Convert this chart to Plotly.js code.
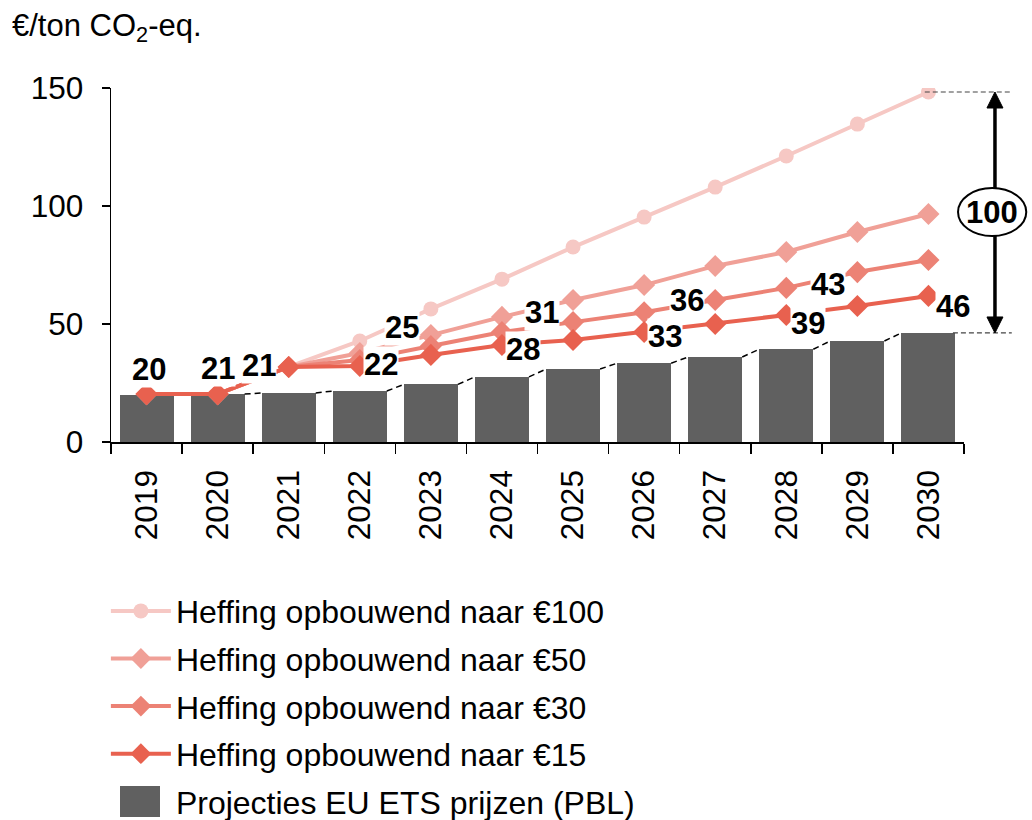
<!DOCTYPE html>
<html>
<head>
<meta charset="utf-8">
<script src="https://cdn.plot.ly/plotly-3.0.1.min.js"></script>
<style>html,body{margin:0;padding:0;background:#fff;}#chart{width:1032px;height:820px;}</style>
</head>
<body>
<div id="chart"></div>
<script>
// ---- data ----
const years = [2019, 2020, 2021, 2022, 2023, 2024, 2025, 2026, 2027, 2028, 2029, 2030];
const etsPrices = [19.9, 20.3, 20.8, 21.6, 24.4, 27.6, 30.9, 33.4, 36.0, 39.3, 42.8, 46.2];
const etsLabels = ['20', '21', '21', '22', '25', '28', '31', '33', '36', '39', '43', '46'];
const heffing100 = [20.3, 20.3, 31.8, 42.8, 56.4, 69.0, 82.6, 95.3, 108.0, 121.2, 134.7, 148.3];
const heffing50 = [20.3, 20.3, 31.8, 37.7, 45.3, 53.0, 60.2, 66.5, 74.6, 80.5, 89.0, 96.6];
const heffing30 = [20.3, 20.3, 31.8, 34.7, 40.7, 46.6, 50.8, 55.0, 60.2, 65.3, 72.0, 77.1];
const heffing15 = [20.3, 20.3, 31.8, 32.2, 36.9, 41.1, 43.2, 46.6, 50.0, 53.8, 57.6, 61.9];
const seriesNames = ['Heffing opbouwend naar €100', 'Heffing opbouwend naar €50',
                     'Heffing opbouwend naar €30', 'Heffing opbouwend naar €15'];
const barName = 'Projecties EU ETS prijzen (PBL)';
const yTicks = [0, 50, 100, 150];
const gapLabel = '100';

// ---- style ----
const FONT = 'Liberation Sans, Arial, Helvetica, sans-serif';
const barColor = '#606060';
const lineColors = ['#f6c8c4', '#f0a097', '#ec8275', '#e8614f'];
const barWidth = 0.76;
// label offsets in pixels [dx, dy] relative to each bar top
const labelShift = [[2,26],[0,26],[-30,27],[21,27],[-29,57],[21,27],[-31,57],[21,27],[-28,57],[22,26],[-29,56],[25,26]];

const half = barWidth / 2;
const slx = [], sly = [];
for (let i = 0; i < years.length - 1; i++) {
  slx.push(years[i] + half, years[i + 1] - half, null);
  sly.push(etsPrices[i], etsPrices[i + 1], null);
}
const boundaries = years.map(y => y - 0.5).concat([years[years.length - 1] + 0.5]);

const traces = [
  {type: 'bar', x: years, y: etsPrices, name: barName, width: barWidth,
   marker: {color: barColor}, legendrank: 5, legendgroup: 'g5', hoverinfo: 'y'},
  {type: 'scatter', mode: 'lines', x: slx, y: sly, showlegend: false,
   line: {color: '#000', width: 1.5, dash: '6px,4px'}, hoverinfo: 'skip'},
];
const seriesData = [heffing100, heffing50, heffing30, heffing15];
seriesData.forEach((d, i) => {
  traces.push({type: 'scatter', mode: 'lines+markers', x: years, y: d, name: seriesNames[i],
    legendrank: i + 1, legendgroup: 'g' + (i + 1),
    line: {color: lineColors[i], width: 4},
    marker: {color: lineColors[i], symbol: i === 0 ? 'circle' : 'diamond', size: i === 0 ? 15 : 17}});
});

const annotations = years.map((yr, i) => ({
  x: yr, y: etsPrices[i], xref: 'x', yref: 'y', text: etsLabels[i], showarrow: false,
  xanchor: 'center', yanchor: 'middle',
  xshift: labelShift[i][0], yshift: labelShift[i][1], bgcolor: '#fff', borderpad: 0,
  font: {family: FONT, size: 31, color: '#000', weight: 'bold'}
}));
const topVal = heffing100[heffing100.length - 1];
const botVal = etsPrices[etsPrices.length - 1];
const arrowX = 1.0363;
const ellTop = 107.6, ellBot = 87.3;
annotations.push(
  {x: arrowX - 0.003, xref: 'paper', y: (ellTop + ellBot) / 2, yref: 'y', text: gapLabel, showarrow: false,
   xanchor: 'center', yanchor: 'middle',
   font: {family: FONT, size: 31, color: '#000', weight: 'bold'}}
);

const shapes = [
  {type: 'line', xref: 'paper', yref: 'y', x0: 0.954, x1: 1.056, y0: topVal, y1: topVal,
   line: {color: '#444', width: 1.2, dash: '5px,3px'}},
  {type: 'line', xref: 'paper', yref: 'y', x0: 0.987, x1: 1.056, y0: botVal, y1: botVal,
   line: {color: '#444', width: 1.2, dash: '5px,3px'}},
  // double arrow shafts
  {type: 'line', xref: 'paper', yref: 'y', x0: arrowX, x1: arrowX, y0: topVal - 5, y1: ellTop,
   line: {color: '#000', width: 3.5}},
  {type: 'line', xref: 'paper', yref: 'y', x0: arrowX, x1: arrowX, y0: ellBot, y1: botVal + 5,
   line: {color: '#000', width: 3.5}},
  // arrow heads
  {type: 'path', xref: 'paper', yref: 'y', xsizemode: 'pixel', ysizemode: 'pixel',
   xanchor: arrowX, yanchor: topVal, path: 'M0,0 L-8,-16 L8,-16 Z',
   fillcolor: '#000', line: {color: '#000', width: 1}},
  {type: 'path', xref: 'paper', yref: 'y', xsizemode: 'pixel', ysizemode: 'pixel',
   xanchor: arrowX, yanchor: botVal, path: 'M0,0 L-8,16 L8,16 Z',
   fillcolor: '#000', line: {color: '#000', width: 1}},
  {type: 'circle', xref: 'paper', yref: 'y', x0: 0.993, x1: 1.073, y0: ellBot, y1: ellTop,
   fillcolor: '#fff', line: {color: '#000', width: 2}, layer: 'above'},
  // enlarged legend swatch for the bar series (sits under the legend's own swatch)
  {type: 'rect', xref: 'paper', yref: 'paper', x0: (120 - 111) / 853, x1: (160 - 111) / 853,
   y0: (442 - 817) / 354, y1: (442 - 786) / 354, fillcolor: barColor, line: {width: 0}, layer: 'above'}
];

const layout = {
  width: 1032, height: 820,
  margin: {l: 111, r: 68, t: 88, b: 378, autoexpand: false},
  paper_bgcolor: '#fff', plot_bgcolor: '#fff',
  font: {family: FONT, size: 32, color: '#000'},
  title: {text: '€/ton CO<sub>2</sub>-eq.', x: 12 / 1032, xref: 'container', xanchor: 'left',
          y: 1 - 25 / 820, yref: 'container', yanchor: 'middle',
          font: {family: FONT, size: 31, color: '#000'}},
  showlegend: true,
  legend: {x: -0.006, xanchor: 'left', y: -0.40, yanchor: 'top', bgcolor: 'rgba(0,0,0,0)',
           font: {family: FONT, size: 32, color: '#000'}, traceorder: 'grouped', tracegroupgap: 3, itemwidth: 60},
  xaxis: {type: 'linear', range: [years[0] - 0.5, years[years.length - 1] + 0.5],
          tickmode: 'array', tickvals: years, ticktext: years.map(String), tickangle: -90,
          tickfont: {size: 31.5}, automargin: false,
          ticks: '', showgrid: false, zeroline: false, showline: true, linecolor: '#000', linewidth: 1.5,
          ticklabelstandoff: 14, fixedrange: true,
          minor: {tickmode: 'array', tickvals: boundaries, ticks: 'outside', ticklen: 10, tickwidth: 1.5, tickcolor: '#000', showgrid: false}},
  yaxis: {range: [0, 150], tickmode: 'array', tickvals: yTicks, ticks: 'outside', ticklen: 8,
          tickfont: {size: 31.5}, automargin: false,
          tickwidth: 1.5, tickcolor: '#000', showline: true, linecolor: '#000', linewidth: 1.5,
          showgrid: false, zeroline: false, ticklabelstandoff: 12, fixedrange: true},
  annotations: annotations,
  shapes: shapes,
  bargap: 0
};

Plotly.newPlot('chart', traces, layout, {displayModeBar: false, staticPlot: true});
</script>
</body>
</html>
